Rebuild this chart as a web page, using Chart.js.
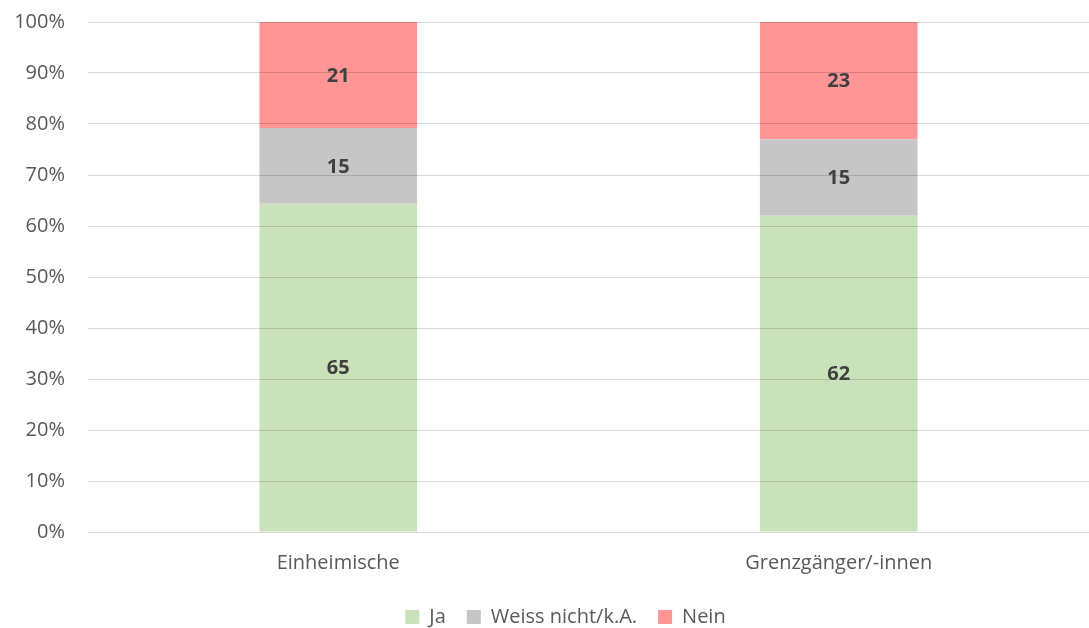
<!DOCTYPE html>
<html>
<head>
<meta charset="utf-8">
<script src="https://cdn.jsdelivr.net/npm/chart.js@4"></script>
<style>
  html, body { margin: 0; padding: 0; background: #fff; }
  #wrap { width: 1089px; height: 628px; }
</style>
</head>
<body>
<div id="wrap"><canvas id="chart" width="1089" height="628"></canvas></div>
<script>
// categories and raw answer counts (percent, as printed on the bars)
const categories = ['Einheimische', 'Grenzgänger/-innen'];
const ja = [65, 62];
const weissNicht = [15, 15];
const nein = [21, 23];
const seriesNames = ['Ja', 'Weiss nicht/k.A.', 'Nein'];
const yTicks = [0, 10, 20, 30, 40, 50, 60, 70, 80, 90, 100];

const colors = ['#C9E2B9', '#C6C6C6', '#FF9595'];
const raw = [ja, weissNicht, nein];

// stacked to 100% per category
const totals = categories.map((_, i) => ja[i] + weissNicht[i] + nein[i]);
const shares = raw.map(s => s.map((v, i) => v / totals[i] * 100));

// draw the counts in the middle of each segment
const segmentLabels = {
    id: 'segmentLabels',
    afterDraw(chart) {
        const ctx = chart.ctx;
        ctx.save();
        ctx.font = 'bold 20px "Open Sans"';
        ctx.fillStyle = '#404040';
        ctx.textAlign = 'center';
        ctx.textBaseline = 'middle';
        chart.data.datasets.forEach((ds, di) => {
            const meta = chart.getDatasetMeta(di);
            meta.data.forEach((bar, i) => {
                const mid = (bar.y + bar.base) / 2;
                ctx.fillText(raw[di][i], bar.x, mid + 1);
            });
        });
        ctx.restore();
    }
};

// legend sits a bit right of the canvas centre in the original
const legendShift = {
    id: 'legendShift',
    afterLayout(chart) {
        chart.legend.left += 21;
        chart.legend.right += 21;
    }
};

new Chart(document.getElementById('chart').getContext('2d'), {
    type: 'bar',
    data: {
        labels: categories,
        datasets: seriesNames.map((name, k) => ({
            label: name,
            data: shares[k],
            backgroundColor: colors[k],
            borderWidth: 0,
            barPercentage: 0.315,
            categoryPercentage: 1
        }))
    },
    options: {
        responsive: false,
        animation: false,
        layout: { padding: { top: 22, right: 0, left: 0, bottom: -9 } },
        plugins: {
            legend: {
                position: 'bottom',
                labels: {
                    boxWidth: 14,
                    boxHeight: 14,
                    padding: 21,
                    color: '#595959',
                    font: { family: '"Open Sans"', size: 20 }
                }
            },
            tooltip: { enabled: false }
        },
        scales: {
            x: {
                stacked: true,
                afterFit: axis => { axis.height = 54; axis.paddingLeft = 0; axis.paddingRight = 0; },
                grid: { display: false },
                border: { display: false },
                ticks: {
                    color: '#595959',
                    padding: 11,
                    font: { family: '"Open Sans"', size: 20 }
                }
            },
            y: {
                stacked: true,
                min: 0,
                max: 100,
                afterBuildTicks: axis => { axis.ticks = yTicks.map(v => ({ value: v })); },
                afterFit: axis => { axis.width = 88; axis.paddingTop = 0; axis.paddingBottom = 0; },
                grid: { color: 'rgba(0,0,0,0.15)', drawTicks: false, z: 1 },
                border: { display: false },
                ticks: {
                    color: '#595959',
                    padding: 23,
                    font: { family: '"Open Sans"', size: 20 },
                    callback: v => v + '%'
                }
            }
        }
    },
    plugins: [segmentLabels, legendShift]
});
</script>
</body>
</html>
